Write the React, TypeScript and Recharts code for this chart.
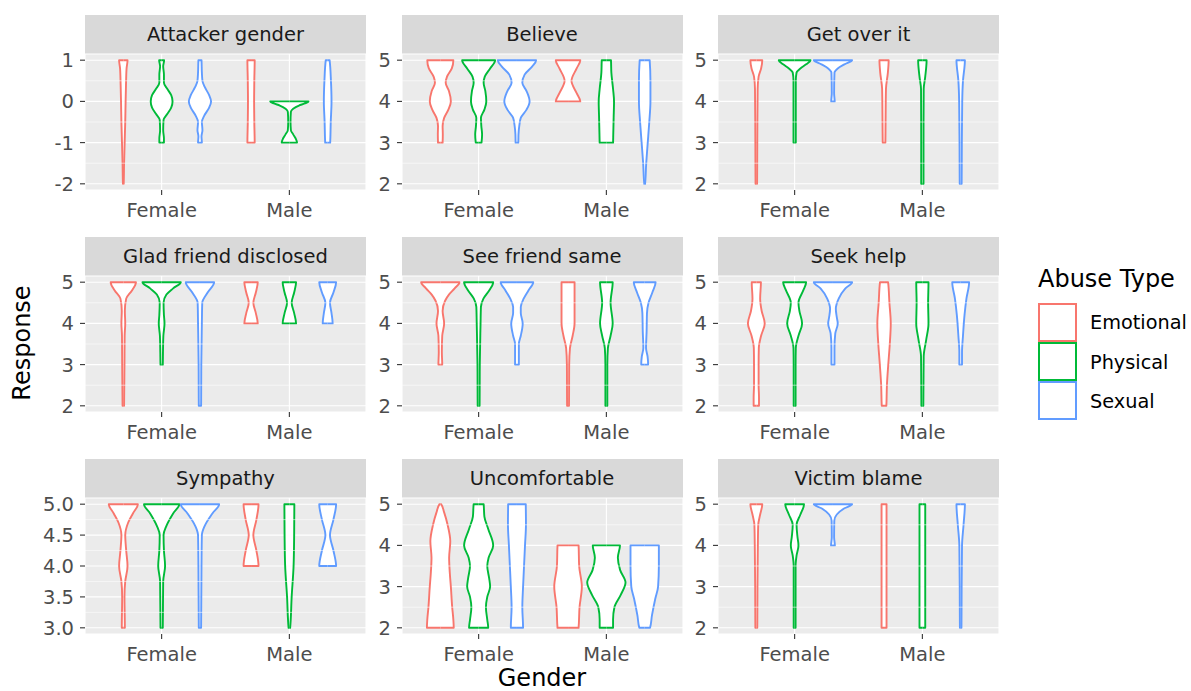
import { ComposedChart, Area, XAxis, YAxis, CartesianGrid, ReferenceLine } from "recharts";

const GENDERS = ["Female", "Male"];
const ABUSE_TYPES = ["Emotional", "Physical", "Sexual"];
const COLORS: Record<string, string> = {
  Emotional: "#F8766D",
  Physical: "#00BA38",
  Sexual: "#619CFF",
};

type Pair = [number, number]; // [response, relative violin width]

// violins per facet, order: Female (Emotional, Physical, Sexual), Male (Emotional, Physical, Sexual)
const attackerGender: Pair[][] = [
  [[1, 0.22], [0.8, 0.17], [0.4, 0.14], [0, 0.12], [-0.5, 0.1], [-1, 0.07], [-1.5, 0.04], [-2, 0.02]],
  [[1, 0.13], [0.85, 0.08], [0.65, 0.12], [0.45, 0.12], [0.3, 0.3], [0.15, 0.5], [0, 0.57], [-0.15, 0.5], [-0.3, 0.3], [-0.45, 0.1], [-0.7, 0.08], [-0.9, 0.12], [-1, 0.12]],
  [[1, 0.08], [0.7, 0.1], [0.5, 0.13], [0.35, 0.25], [0.15, 0.48], [0, 0.58], [-0.15, 0.48], [-0.35, 0.22], [-0.5, 0.1], [-0.7, 0.13], [-0.85, 0.08], [-1, 0.1]],
  [[1, 0.19], [0.5, 0.17], [0, 0.16], [-0.5, 0.17], [-1, 0.19]],
  [[0, 1], [-0.05, 0.8], [-0.1, 0.5], [-0.18, 0.2], [-0.25, 0.08], [-0.5, 0.06], [-0.7, 0.08], [-0.8, 0.2], [-0.9, 0.33], [-1, 0.4]],
  [[1, 0.1], [0.5, 0.17], [0, 0.2], [-0.5, 0.16], [-1, 0.13]],
];

const believe: Pair[][] = [
  [[5, 0.68], [4.8, 0.6], [4.6, 0.35], [4.45, 0.28], [4.25, 0.45], [4, 0.55], [3.8, 0.42], [3.6, 0.2], [3.4, 0.12], [3.2, 0.13], [3, 0.12]],
  [[5, 0.86], [4.8, 0.6], [4.6, 0.32], [4.45, 0.26], [4.25, 0.35], [4, 0.4], [3.8, 0.3], [3.6, 0.12], [3.4, 0.14], [3.2, 0.18], [3, 0.15]],
  [[5, 1], [4.85, 0.8], [4.65, 0.4], [4.45, 0.28], [4.25, 0.5], [4, 0.66], [3.8, 0.5], [3.6, 0.2], [3.4, 0.12], [3.2, 0.08], [3, 0.07]],
  [[5, 0.64], [4.8, 0.45], [4.5, 0.18], [4.2, 0.45], [4, 0.64]],
  [[5, 0.24], [4.7, 0.26], [4.3, 0.35], [4, 0.4], [3.6, 0.38], [3.2, 0.36], [3, 0.35]],
  [[5, 0.26], [4.5, 0.3], [4, 0.3], [3.5, 0.24], [3, 0.16], [2.5, 0.08], [2, 0.02]],
];

const getOverIt: Pair[][] = [
  [[5, 0.31], [4.8, 0.25], [4.6, 0.12], [4.3, 0.07], [3, 0.05], [2, 0.04]],
  [[5, 0.83], [4.9, 0.6], [4.8, 0.3], [4.7, 0.1], [4.5, 0.06], [3, 0.06]],
  [[5, 1], [4.9, 0.6], [4.8, 0.25], [4.7, 0.08], [4.2, 0.06], [4, 0.09]],
  [[5, 0.24], [4.7, 0.2], [4.3, 0.1], [3.5, 0.08], [3, 0.07]],
  [[5, 0.22], [4.6, 0.15], [4.3, 0.07], [3, 0.06], [2, 0.06]],
  [[5, 0.22], [4.5, 0.12], [4, 0.08], [3, 0.06], [2, 0.05]],
];

const gladFriend: Pair[][] = [
  [[5, 0.66], [4.8, 0.45], [4.6, 0.15], [4.3, 0.08], [4, 0.1], [3.7, 0.07], [3, 0.06], [2, 0.04]],
  [[5, 1], [4.85, 0.6], [4.7, 0.25], [4.5, 0.1], [4.2, 0.12], [4, 0.15], [3.7, 0.09], [3.3, 0.07], [3, 0.06]],
  [[5, 0.74], [4.75, 0.4], [4.5, 0.12], [4, 0.1], [3, 0.07], [2, 0.06]],
  [[5, 0.35], [4.75, 0.25], [4.5, 0.12], [4.25, 0.25], [4, 0.35]],
  [[5, 0.35], [4.75, 0.25], [4.5, 0.12], [4.25, 0.25], [4, 0.35]],
  [[5, 0.44], [4.75, 0.3], [4.5, 0.12], [4.25, 0.2], [4, 0.26]],
];

const seeFriendSame: Pair[][] = [
  [[5, 1], [4.85, 0.75], [4.7, 0.45], [4.55, 0.25], [4.3, 0.12], [4, 0.2], [3.7, 0.1], [3.3, 0.08], [3, 0.1]],
  [[5, 0.76], [4.8, 0.55], [4.6, 0.25], [4.4, 0.12], [4, 0.1], [3, 0.06], [2, 0.05]],
  [[5, 0.85], [4.8, 0.6], [4.6, 0.35], [4.4, 0.2], [4.25, 0.2], [4, 0.3], [3.7, 0.2], [3.5, 0.1], [3, 0.1]],
  [[5, 0.34], [4.5, 0.34], [4, 0.34], [3.7, 0.24], [3.4, 0.1], [3, 0.06], [2, 0.05]],
  [[5, 0.33], [4.5, 0.22], [4, 0.33], [3.7, 0.22], [3.4, 0.08], [3, 0.05], [2, 0.05]],
  [[5, 0.57], [4.75, 0.4], [4.5, 0.2], [4.25, 0.12], [3.8, 0.1], [3.4, 0.07], [3.2, 0.15], [3, 0.18]],
];

const seekHelp: Pair[][] = [
  [[5, 0.24], [4.6, 0.2], [4.3, 0.28], [4, 0.44], [3.7, 0.25], [3.4, 0.13], [3, 0.12], [2.5, 0.12], [2.2, 0.14], [2, 0.14]],
  [[5, 0.6], [4.8, 0.45], [4.5, 0.2], [4.3, 0.25], [4, 0.39], [3.7, 0.2], [3.4, 0.06], [3, 0.05], [2, 0.05]],
  [[5, 1], [4.85, 0.65], [4.6, 0.3], [4.35, 0.15], [4.15, 0.2], [4, 0.25], [3.75, 0.12], [3.4, 0.08], [3, 0.08]],
  [[5, 0.21], [4.5, 0.28], [4, 0.35], [3.5, 0.3], [3, 0.22], [2.5, 0.15], [2, 0.12]],
  [[5, 0.32], [4.5, 0.3], [4, 0.32], [3.6, 0.2], [3.2, 0.07], [2, 0.05]],
  [[5, 0.44], [4.6, 0.3], [4.2, 0.2], [3.7, 0.12], [3.3, 0.07], [3, 0.07]],
];

const sympathy: Pair[][] = [
  [[5, 0.76], [4.85, 0.5], [4.7, 0.25], [4.5, 0.1], [4.25, 0.15], [4, 0.22], [3.75, 0.1], [3.5, 0.06], [3, 0.08]],
  [[5, 0.92], [4.85, 0.6], [4.65, 0.25], [4.5, 0.1], [4.25, 0.12], [4, 0.18], [3.75, 0.08], [3, 0.06]],
  [[5, 1], [4.85, 0.65], [4.65, 0.25], [4.5, 0.1], [4, 0.08], [3, 0.06]],
  [[5, 0.39], [4.75, 0.28], [4.5, 0.12], [4.25, 0.28], [4, 0.39]],
  [[5, 0.26], [4.5, 0.25], [4, 0.22], [3.5, 0.12], [3, 0.04]],
  [[5, 0.44], [4.75, 0.3], [4.5, 0.12], [4.25, 0.3], [4, 0.44]],
];

const uncomfortable: Pair[][] = [
  [[5, 0.04], [4.8, 0.2], [4.5, 0.38], [4.1, 0.52], [3.7, 0.46], [3.3, 0.5], [3, 0.55], [2.5, 0.62], [2.2, 0.68], [2, 0.7]],
  [[5, 0.26], [4.7, 0.3], [4.4, 0.5], [4, 0.76], [3.7, 0.52], [3.5, 0.45], [3.2, 0.55], [3, 0.6], [2.75, 0.45], [2.5, 0.38], [2.2, 0.45], [2, 0.5]],
  [[5, 0.46], [4.5, 0.47], [4, 0.42], [3.5, 0.37], [3, 0.32], [2.5, 0.28], [2, 0.32]],
  [[4, 0.55], [3.5, 0.58], [3, 0.72], [2.5, 0.6], [2, 0.55]],
  [[4, 0.71], [3.7, 0.6], [3.4, 0.72], [3.1, 1], [2.8, 0.75], [2.5, 0.42], [2.2, 0.35], [2, 0.35]],
  [[4, 0.74], [3.5, 0.74], [3, 0.7], [2.7, 0.55], [2.3, 0.38], [2, 0.28]],
];

const victimBlame: Pair[][] = [
  [[5, 0.31], [4.75, 0.2], [4.5, 0.1], [4, 0.08], [3, 0.06], [2, 0.05]],
  [[5, 0.49], [4.75, 0.3], [4.5, 0.1], [4.2, 0.15], [4, 0.2], [3.75, 0.1], [3.5, 0.05], [2, 0.05]],
  [[5, 1], [4.9, 0.6], [4.75, 0.2], [4.6, 0.07], [4.2, 0.06], [4, 0.1]],
  [[5, 0.13], [4, 0.13], [3, 0.13], [2, 0.13]],
  [[5, 0.15], [4, 0.15], [3, 0.15], [2, 0.15]],
  [[5, 0.22], [4.5, 0.15], [4, 0.07], [3, 0.05], [2, 0.04]],
];

const FACET_TITLES = [
  "Attacker gender", "Believe", "Get over it",
  "Glad friend disclosed", "See friend same", "Seek help",
  "Sympathy", "Uncomfortable", "Victim blame",
];
const FACET_VIOLINS = [
  attackerGender, believe, getOverIt,
  gladFriend, seeFriendSame, seekHelp,
  sympathy, uncomfortable, victimBlame,
];
const INT_TICKS = [2, 3, 4, 5];
const FACET_TICKS = [
  [-2, -1, 0, 1], INT_TICKS, INT_TICKS,
  INT_TICKS, INT_TICKS, INT_TICKS,
  [3, 3.5, 4, 4.5, 5], INT_TICKS, INT_TICKS,
];

// layout
const PANEL_LEFTS = [85, 401.5, 718];
const PANEL_TOPS = [54, 276, 497.5];
const PANEL_W = 281;
const PANEL_H = 136;
const STRIP_H = 39;
const Y_AXIS_W = 60;
const X_AXIS_H = 45;
const TOP_PAD = 14;
const HALF = 0.15; // half of dodge width 0.9 / 3 groups
const FONT = "'DejaVu Sans', sans-serif";

function violinRows(pairs: Pair[], center: number) {
  const sorted = [...pairs].sort((a, b) => a[0] - b[0]);
  const rows = sorted.map(([y, w]) => ({ y, range: [center - w * HALF, center + w * HALF] }));
  const lo = sorted[0][0];
  const hi = sorted[sorted.length - 1][0];
  return [{ y: lo, range: [center, center] }, ...rows, { y: hi, range: [center, center] }];
}

function Facet({ index }: { index: number }) {
  const left = PANEL_LEFTS[index % 3];
  const top = PANEL_TOPS[Math.floor(index / 3)];
  const violins = FACET_VIOLINS[index];
  const ticks = FACET_TICKS[index];
  const ys = violins.flatMap((v) => v.map((p) => p[0]));
  const lo = Math.min(...ys);
  const hi = Math.max(...ys);
  const pad = (hi - lo) * 0.05;
  const minors = ticks.slice(1).map((t, i) => (t + ticks[i]) / 2);
  const decimals = ticks.some((t) => !Number.isInteger(t)) ? 1 : 0;

  return (
    <>
      <div
        style={{
          position: "absolute",
          left,
          top: top - STRIP_H,
          width: PANEL_W,
          height: STRIP_H,
          background: "#D9D9D9",
          color: "#1A1A1A",
          fontSize: 19.5,
          display: "flex",
          alignItems: "center",
          justifyContent: "center",
        }}
      >
        {FACET_TITLES[index]}
      </div>
      <div style={{ position: "absolute", left: left - Y_AXIS_W, top: top - TOP_PAD }}>
        <ComposedChart
          layout="vertical"
          width={Y_AXIS_W + PANEL_W}
          height={TOP_PAD + PANEL_H + X_AXIS_H}
          margin={{ top: TOP_PAD, right: 0, bottom: 0, left: 0 }}
        >
          <CartesianGrid fill="#EBEBEB" stroke="#FFFFFF" strokeWidth={1.1} />
          {minors.map((m) => (
            <ReferenceLine key={m} y={m} stroke="#FFFFFF" strokeWidth={0.55} />
          ))}
          <XAxis
            type="number"
            domain={[0.4, 2.6]}
            ticks={[1, 2]}
            interval={0}
            allowDataOverflow
            tickFormatter={(v) => GENDERS[v - 1]}
            axisLine={false}
            tickSize={5}
            tickMargin={8}
            tickLine={{ stroke: "#333333", strokeWidth: 1.1 }}
            tick={{ fill: "#4D4D4D", fontSize: 19.5 }}
            height={X_AXIS_H}
          />
          <YAxis
            type="number"
            dataKey="y"
            reversed
            domain={[lo - pad, hi + pad]}
            ticks={ticks}
            interval={0}
            allowDataOverflow
            tickFormatter={(v) => Number(v).toFixed(decimals)}
            axisLine={false}
            tickSize={5}
            tickMargin={6}
            tickLine={{ stroke: "#333333", strokeWidth: 1.1 }}
            tick={{ fill: "#4D4D4D", fontSize: 19.5 }}
            width={Y_AXIS_W}
          />
          {violins.map((pairs, i) => {
            const g = Math.floor(i / 3);
            const t = i % 3;
            const center = g + 1 + (t - 1) * 0.3;
            const type = ABUSE_TYPES[t];
            return (
              <Area
                key={i}
                data={violinRows(pairs, center)}
                dataKey="range"
                name={`${GENDERS[g]} ${type}`}
                type="monotone"
                stroke={COLORS[type]}
                strokeWidth={1.9}
                strokeLinejoin="round"
                fill="#FFFFFF"
                fillOpacity={1}
                dot={false}
                activeDot={false}
                isAnimationActive={false}
              />
            );
          })}
        </ComposedChart>
      </div>
    </>
  );
}

export default function App() {
  return (
    <div
      style={{
        position: "absolute",
        left: 0,
        top: 0,
        width: 1191,
        height: 691,
        background: "#FFFFFF",
        fontFamily: FONT,
        overflow: "hidden",
      }}
    >
      {FACET_TITLES.map((_, i) => (
        <Facet key={i} index={i} />
      ))}

      {/* legend keys */}
      {ABUSE_TYPES.map((type, i) => (
        <div
          key={type}
          style={{
            position: "absolute",
            left: 1037.5,
            top: 302.5 + i * 39.3,
            width: 39,
            height: 39,
            boxSizing: "border-box",
            border: `2.5px solid ${COLORS[type]}`,
            background: "#FFFFFF",
          }}
        />
      ))}

      <svg
        width={1191}
        height={691}
        style={{ position: "absolute", left: 0, top: 0, pointerEvents: "none" }}
        fontFamily={FONT}
      >
        <text x={1038} y={287} fontSize={24} fill="#000000">
          Abuse Type
        </text>
        {ABUSE_TYPES.map((type, i) => (
          <text key={type} x={1090} y={329 + i * 39.5} fontSize={19.3} fill="#000000">
            {type}
          </text>
        ))}
        <text x={542} y={686} fontSize={24} fill="#000000" textAnchor="middle">
          Gender
        </text>
        <text
          x={0}
          y={0}
          fontSize={24}
          fill="#000000"
          textAnchor="middle"
          transform="translate(29.5 343) rotate(-90)"
        >
          Response
        </text>
      </svg>
    </div>
  );
}
